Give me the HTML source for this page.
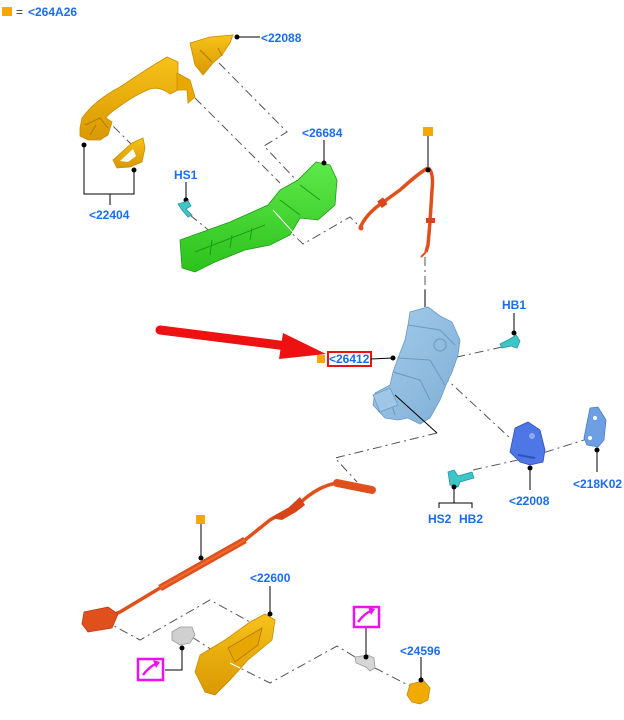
<!DOCTYPE html>
<html><head><meta charset="utf-8"><style>
html,body{margin:0;padding:0;background:#fff;}
svg{display:block;}
text{font-family:"Liberation Sans",Arial,sans-serif;font-weight:bold;font-size:12px;fill:#1a6cf0;}
</style></head><body>
<svg width="624" height="720" viewBox="0 0 624 720" xmlns="http://www.w3.org/2000/svg">
<defs>
<linearGradient id="yel" x1="0" y1="0" x2="0" y2="1"><stop offset="0" stop-color="#f7c21a"/><stop offset="1" stop-color="#d99800"/></linearGradient>
<linearGradient id="grn" x1="0" y1="0" x2="0" y2="1"><stop offset="0" stop-color="#5ee84a"/><stop offset="1" stop-color="#2cc21c"/></linearGradient>
<linearGradient id="blu" x1="0" y1="0" x2="1" y2="1"><stop offset="0" stop-color="#a6cdea"/><stop offset="1" stop-color="#7eaed6"/></linearGradient>
</defs>

<!-- legend -->
<rect x="2" y="7" width="10" height="9" fill="#f5a800"/>
<text x="16" y="16" style="fill:#333;font-weight:normal">=</text>
<text x="28" y="16">&lt;264A26</text>

<!-- dash-dot connectors -->
<g fill="none" stroke="#555" stroke-width="1" stroke-dasharray="9,4,2,4">
<path d="M219,63 L287,132 L264,146 L298,182"/>
<path d="M195,98 L280,183"/>
<path d="M100,113 L132,145"/>
<path d="M190,215 L212,233"/>
<path d="M270,212 L303,244 L350,217 L360,227"/>
<path d="M425,257 L425,307"/>
<path d="M502,347 L457,357"/>
<path d="M442,375 L510,438"/>
<path d="M437,433 L335,458 L357,482"/>
<path d="M527,458 L587,439"/>
<path d="M473,470 L527,458"/>
<path d="M103,620 L140,640 L210,600 L252,623"/>
<path d="M192,637 L212,650"/>
<path d="M230,663 L270,683 L337,646 L360,660"/>
<path d="M375,668 L412,687"/>
</g>

<!-- handle cover 22088 -->
<path d="M190,43 L210,37 L233,35 L230,43 L222,55 L213,63 L203,75 L195,65 Z" fill="url(#yel)" stroke="#c98c00" stroke-width="0.8"/>
<path d="M200,50 L212,62 M218,48 L222,56" stroke="#b07800" stroke-width="1" fill="none"/>

<!-- main handle -->
<path d="M80,128 L82,118 Q95,100 120,87 Q145,70 167,57 L178,62 L178,90 L170,94 Q160,86 150,89 Q135,95 120,106 Q108,114 106,118 L112,122 L108,135 L100,140 L88,140 L80,136 Z" fill="url(#yel)" stroke="#c98c00" stroke-width="0.8"/>
<path d="M177,73 L190,80 L195,97 L188,103 L187,90 L177,90 Z" fill="#e9a800" stroke="#c98c00" stroke-width="0.8"/>
<path d="M85,125 L100,118 L108,128 M90,135 L96,125" stroke="#b07800" stroke-width="1" fill="none"/>

<!-- small yellow piece -->
<path d="M113,160 L132,143 L143,138 L145,148 L142,162 L130,167 L117,168 Z" fill="url(#yel)" stroke="#c98c00" stroke-width="0.8"/>
<path d="M120,161 L133,149 L136,156 L128,162 Z" fill="#fff"/>

<!-- 22404 leader -->
<g stroke="#000" stroke-width="1" fill="none">
<path d="M84,145 L84,194 L134,194 L134,170"/>
<path d="M110,194 L110,205"/>
</g>
<circle cx="84" cy="145" r="2.5"/><circle cx="134" cy="170" r="2.5"/>
<text x="89" y="219">&lt;22404</text>

<!-- 22088 leader -->
<path d="M237,37 L260,37" stroke="#000"/>
<circle cx="237" cy="37" r="2.5"/>
<text x="261" y="42">&lt;22088</text>

<!-- HS1 -->
<text x="174" y="179">HS1</text>
<path d="M186,182 L186,200" stroke="#000"/>
<circle cx="186" cy="200" r="2.5"/>
<path d="M178,204 L188,201 L191,206 L186,209 L192,215 L188,217 L182,210 Z" fill="#3fc4c8" stroke="#1f9aa0" stroke-width="0.8"/>

<!-- green bracket -->
<path d="M180,240 L230,222 L268,205 L280,190 L298,180 L316,162 L330,165 L337,180 L335,205 L318,220 L300,218 L290,235 L270,245 L245,250 L215,262 L195,272 L182,268 Z" fill="url(#grn)" stroke="#1f9a14" stroke-width="0.8"/>
<path d="M195,252 L265,225 M280,200 L300,215 M300,185 L320,200 M210,255 L212,240 M230,248 L232,235 M250,240 L252,228" stroke="#1f9a14" stroke-width="1" fill="none"/>
<path d="M273,210 L300,240" stroke="#fff" stroke-width="1"/>

<!-- 26684 -->
<text x="302" y="137">&lt;26684</text>
<path d="M324,140 L324,163" stroke="#000"/>
<circle cx="324" cy="163" r="2.5"/>

<!-- top cable -->
<rect x="423" y="127" width="10" height="9" fill="#f5a800"/>
<path d="M428,136 L428,170" stroke="#000"/>
<path d="M360,228 Q366,214 382,203 L400,190 Q420,172 428,168 Q434,172 432,190 L430,222 L428,245 L426,252" fill="none" stroke="#e0501c" stroke-width="3.5" stroke-linejoin="round"/>
<path d="M360,228 Q366,214 382,203" fill="none" stroke="#e0501c" stroke-width="1.8"/>
<circle cx="361" cy="228" r="2.5" fill="#e0501c"/>
<rect x="379" y="199" width="7" height="8" fill="#d8441a" transform="rotate(-35 382 203)"/>
<rect x="426" y="218" width="9" height="5" fill="#d8441a"/>
<path d="M426,252 L421,257" stroke="#e0501c" stroke-width="2"/>
<circle cx="428" cy="170" r="2.5"/>

<!-- latch 26412 -->
<path d="M425,290 L425,307" stroke="#000"/>
<path d="M410,312 L428,307 L440,316 L452,322 L460,340 L458,355 L452,372 L446,385 L440,400 L430,418 L420,424 L408,418 L398,420 L385,418 L373,405 L375,393 L390,385 L393,372 L398,358 L405,340 L408,325 Z" fill="url(#blu)" stroke="#6a99c4" stroke-width="0.8"/>
<path d="M408,325 L440,330 L455,345 M398,358 L430,360 L445,385 M393,372 L420,380 L430,400 M375,393 L390,400 L395,415" stroke="#6a99c4" stroke-width="1" fill="none"/>
<circle cx="440" cy="345" r="6" fill="none" stroke="#6a99c4"/>
<path d="M373,395 L390,388 L398,405 L380,412 Z" fill="#9fc6e6" stroke="#6a99c4" stroke-width="0.8"/>
<path d="M395,395 L437,433" stroke="#000" stroke-width="1"/>

<!-- red arrow -->
<path d="M160,330 L287,346" stroke="#ee1111" stroke-width="9" stroke-linecap="round"/>
<path d="M283,333 L326,354 L279,359 Z" fill="#ee1111"/>

<!-- label 26412 -->
<rect x="317" y="355" width="8" height="8" fill="#f5a800"/>
<rect x="328" y="352" width="43" height="14" fill="#fff" stroke="#ee1111" stroke-width="2"/>
<text x="329" y="363">&lt;26412</text>
<path d="M371,359 L393,358" stroke="#000"/>
<circle cx="393" cy="358" r="2.5"/>

<!-- HB1 -->
<text x="502" y="309">HB1</text>
<path d="M514,313 L514,333" stroke="#000"/>
<circle cx="514" cy="333" r="2.5"/>
<path d="M500,344 L510,339 L516,335 L520,341 L517,348 L511,346 L502,348 Z" fill="#3fc4c8" stroke="#1f9aa0" stroke-width="0.8"/>

<!-- striker 22008 -->
<path d="M515,428 L528,422 L540,430 L545,450 L543,462 L530,465 L520,462 L510,452 Z" fill="#4e76e4" stroke="#2f51c0" stroke-width="0.8"/>
<circle cx="532" cy="436" r="3" fill="#8fa8f0"/>
<path d="M518,455 L535,458" stroke="#2f51c0" stroke-width="2"/>
<path d="M530,468 L530,490" stroke="#000"/>
<circle cx="530" cy="468" r="2.5"/>
<text x="509" y="505">&lt;22008</text>

<!-- plate 218K02 -->
<path d="M590,408 L598,407 L606,420 L604,440 L598,447 L587,445 L584,438 Z" fill="#6d9fe2" stroke="#4a7cc8" stroke-width="0.8"/>
<circle cx="595" cy="418" r="2" fill="#fff"/>
<circle cx="590" cy="438" r="2" fill="#fff"/>
<path d="M597,450 L597,472" stroke="#000"/>
<circle cx="597" cy="450" r="2.5"/>
<text x="573" y="488">&lt;218K02</text>

<!-- HS2 HB2 screw -->
<path d="M448,472 L454,470 L458,476 L472,472 L474,478 L460,482 L458,487 L450,485 Z" fill="#3fc4c8" stroke="#1f9aa0" stroke-width="0.8"/>
<g stroke="#000" fill="none"><path d="M454,487 L454,503"/><path d="M439,508 L439,503 L472,503 L472,508"/></g>
<circle cx="454" cy="487" r="2.5"/>
<text x="428" y="523">HS2</text>
<text x="459" y="523">HB2</text>

<!-- bottom cable -->
<path d="M337,483 L372,490" stroke="#e0501c" stroke-width="8" stroke-linecap="round"/>
<path d="M337,483 Q318,486 300,503 L270,520 L245,540 L160,588 L120,612 L100,620" fill="none" stroke="#e0501c" stroke-width="3.5" stroke-linejoin="round"/>
<path d="M245,540 L160,588" stroke="#e0501c" stroke-width="7"/>
<path d="M245,540 L160,588" stroke="#f06a30" stroke-width="2"/>
<path d="M300,497 L288,508 L270,518 L282,520 L296,512 L305,505 Z" fill="#d8441a"/>
<path d="M84,612 L108,607 L118,614 L112,628 L88,632 L82,624 Z" fill="#e0501c" stroke="#b83810" stroke-width="0.8"/>
<rect x="196" y="515" width="9" height="9" fill="#f5a800"/>
<path d="M201,524 L201,558" stroke="#000"/>
<circle cx="201" cy="558" r="2.5"/>

<!-- inner handle 22600 -->
<path d="M250,622 L265,614 L275,620 L272,640 L248,660 L230,680 L215,695 L205,692 L195,672 L200,655 L225,640 Z" fill="url(#yel)" stroke="#c98c00" stroke-width="0.8"/>
<path d="M228,648 L262,628 L258,645 L235,662 Z" fill="#e8a600" stroke="#b07800" stroke-width="0.8"/>
<path d="M230,663 L240,668" stroke="#fff" stroke-width="1"/>
<text x="250" y="582">&lt;22600</text>
<path d="M270,586 L270,614" stroke="#000"/>
<circle cx="270" cy="614" r="2.5"/>

<!-- grey clip -->
<path d="M172,632 L180,627 L192,627 L195,635 L190,643 L180,645 L172,640 Z" fill="#d0d0d0" stroke="#999" stroke-width="0.8"/>
<g stroke="#000" fill="none"><path d="M182,648 L182,670 L165,670"/></g>
<circle cx="182" cy="648" r="2.5"/>
<rect x="138" y="659" width="25" height="21" fill="#fff" stroke="#ee11ee" stroke-width="2.5"/>
<path d="M143,675 Q150,666 156,664" stroke="#ee11ee" stroke-width="2.5" fill="none"/>
<path d="M153,660 L160,662 L156,668 Z" fill="#ee11ee"/>

<!-- grey screw right -->
<path d="M355,657 L368,655 L374,658 L375,668 L370,671 L366,667 L356,663 Z" fill="#d6d6d6" stroke="#999" stroke-width="0.8"/>
<path d="M366,657 L366,627" stroke="#000"/>
<circle cx="366" cy="657" r="2.5"/>
<rect x="354" y="607" width="25" height="20" fill="#fff" stroke="#ee11ee" stroke-width="2.5"/>
<path d="M358,622 Q365,613 371,611" stroke="#ee11ee" stroke-width="2.5" fill="none"/>
<path d="M368,607 L375,609 L371,615 Z" fill="#ee11ee"/>

<!-- cap 24596 -->
<path d="M410,684 L424,681 L430,688 L428,700 L420,704 L412,702 L407,695 Z" fill="#f0aa00" stroke="#c98c00" stroke-width="0.8"/>
<path d="M421,680 L421,657" stroke="#000"/>
<circle cx="421" cy="680" r="2.5"/>
<text x="400" y="655">&lt;24596</text>
</svg>
</body></html>
